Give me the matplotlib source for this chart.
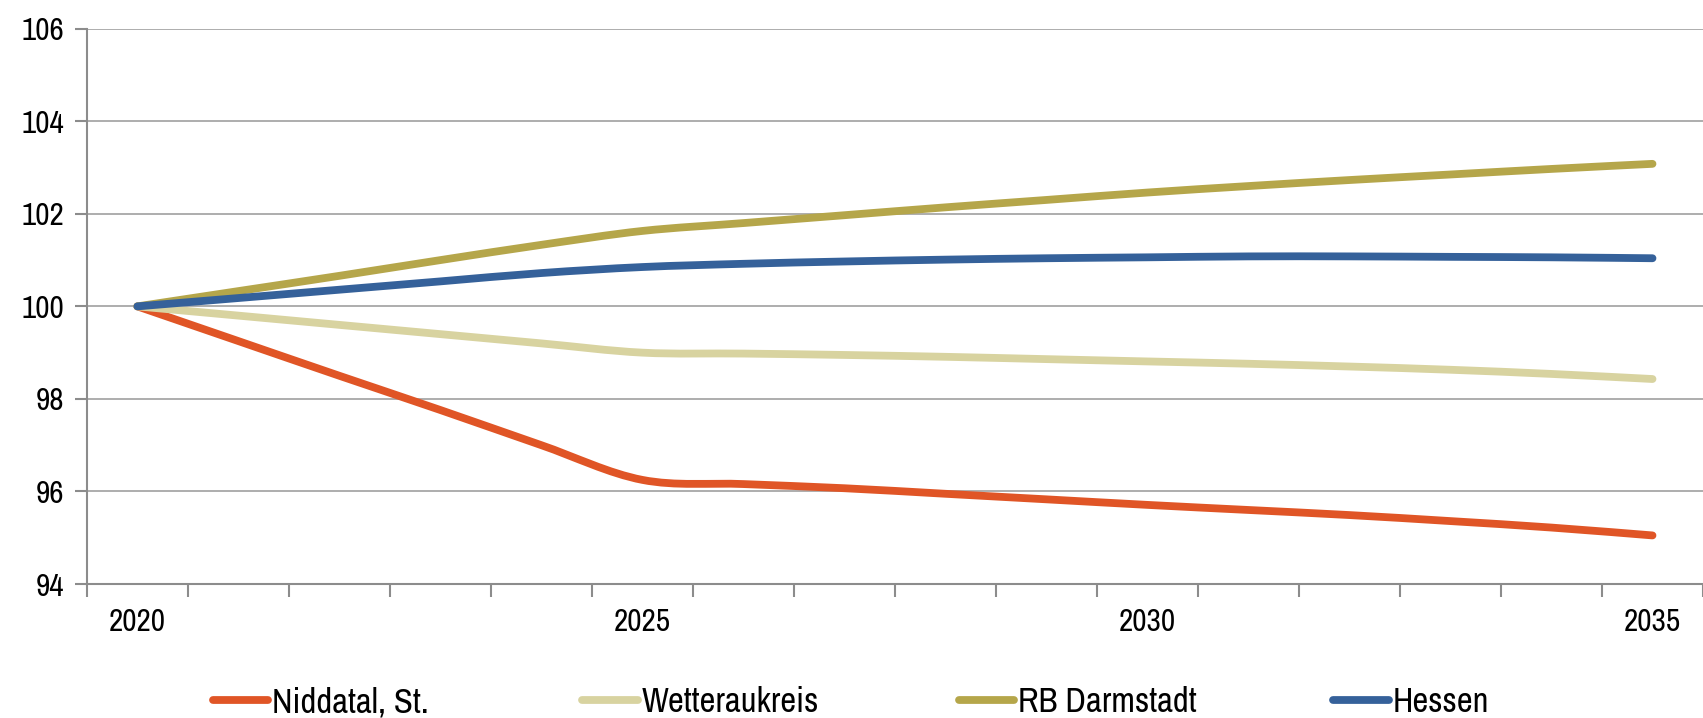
import matplotlib
matplotlib.use("Agg")
import matplotlib.pyplot as plt
from matplotlib.path import Path
import matplotlib.patches as patches
import numpy as np

plt.rcParams['font.family'] = ['Liberation Sans Narrow', 'Archivo Narrow', 'Liberation Sans', 'DejaVu Sans']

years = list(range(2020, 2036))
tick_years = [2020, 2025, 2030, 2035]

niddatal = [100.0, 99.25, 98.5, 97.76, 97.0, 96.25, 96.16, 96.07, 95.95, 95.83,
            95.71, 95.6, 95.49, 95.36, 95.22, 95.05]
wetterau = [100.0, 99.8, 99.6, 99.4, 99.2, 99.0, 98.98, 98.95, 98.91, 98.86,
            98.81, 98.76, 98.7, 98.63, 98.54, 98.43]
darmstadt = [100.0, 100.33, 100.66, 101.0, 101.33, 101.63, 101.8, 101.97, 102.14,
             102.3, 102.46, 102.6, 102.73, 102.85, 102.97, 103.08]
hessen = [100.0, 100.18, 100.36, 100.54, 100.72, 100.85, 100.92, 100.97, 101.01,
          101.04, 101.06, 101.08, 101.08, 101.07, 101.06, 101.04]

series = [
    ("Niddatal, St.", niddatal, "#E05526"),
    ("Wetteraukreis", wetterau, "#D8D3A0"),
    ("RB Darmstadt", darmstadt, "#B5A64A"),
    ("Hessen", hessen, "#35619A"),
]

LW = 5.6


def smooth_path(xs, ys, k=1 / 6):
    # Catmull-Rom style bezier, like Excel's smoothed lines
    pts = np.column_stack([xs, ys]).astype(float)
    verts = [pts[0]]
    codes = [Path.MOVETO]
    n = len(pts)
    for i in range(n - 1):
        p0 = pts[i - 1] if i > 0 else pts[i]
        p1 = pts[i]
        p2 = pts[i + 1]
        p3 = pts[i + 2] if i + 2 < n else pts[i + 1]
        c1 = p1 + (p2 - p0) * k
        c2 = p2 - (p3 - p1) * k
        verts += [c1, c2, p2]
        codes += [Path.CURVE4] * 3
    return Path(verts, codes)


fig = plt.figure(figsize=(17.03, 7.18), dpi=100)
ax = fig.add_axes([0.051, 0.1866, 0.949, 0.7734])

x = np.arange(len(years))
for name, vals, color in series:
    path = smooth_path(x, vals)
    ax.add_patch(patches.PathPatch(path, fill=False, edgecolor=color, lw=LW,
                                   capstyle='round', joinstyle='round', zorder=3))

ax.set_xlim(-0.5, len(years) - 0.5)
ax.set_ylim(94, 106)
ax.set_yticks(np.arange(94, 107, 2))
ax.yaxis.grid(True, color='#A0A0A0', lw=1.2)
ax.set_axisbelow(True)

# category boundaries as major ticks, labels on minor ticks
ax.set_xticks(np.arange(-0.5, len(years), 1))
ax.set_xticklabels([])
ax.set_xticks([years.index(y) for y in tick_years], minor=True)
ax.set_xticklabels([str(y) for y in tick_years], minor=True)
ax.tick_params(axis='x', which='major', length=9, width=1.5, color='#8C8C8C', direction='out')
ax.tick_params(axis='x', which='minor', length=0, pad=17, labelsize=22.5)
ax.tick_params(axis='y', length=9, width=1.5, color='#8C8C8C', pad=7, labelsize=22.5)

for s in ['top', 'right']:
    ax.spines[s].set_visible(False)
for s in ['left', 'bottom']:
    ax.spines[s].set_color('#8C8C8C')
    ax.spines[s].set_linewidth(1.5)

# legend: one entry per slot along the bottom
slots = [0.125, 0.342, 0.563, 0.783]
for (name, vals, color), xs in zip(series, slots):
    h = plt.Line2D([], [], color=color, lw=LW, solid_capstyle='round')
    fig.legend([h], [name], loc='center left', bbox_to_anchor=(xs, 0.022),
               frameon=False, fontsize=25, handlelength=1.6, handletextpad=0.1,
               borderaxespad=0, borderpad=0)

fig.savefig("out.png", dpi=100)
